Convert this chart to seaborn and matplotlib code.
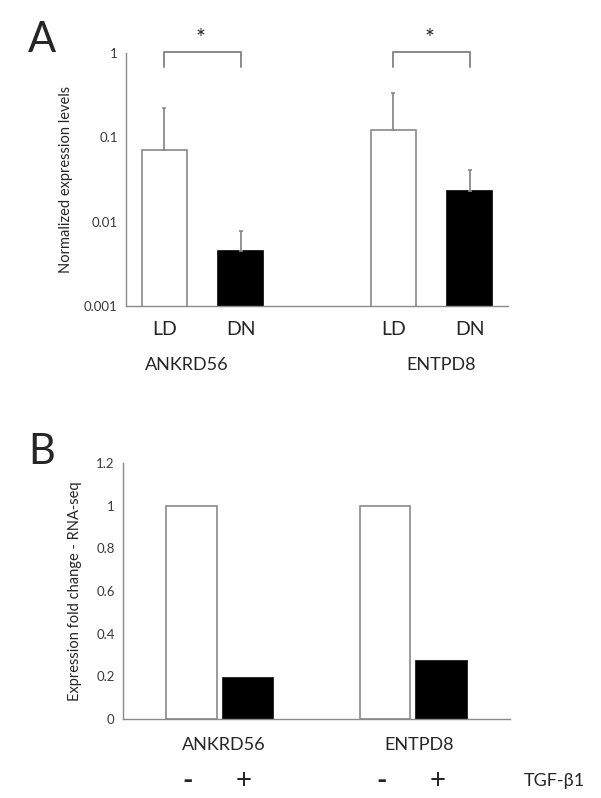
import numpy as np
import pandas as pd
import matplotlib
matplotlib.use("Agg")
import matplotlib.pyplot as plt
import seaborn as sns

# panel A data (qPCR, log scale)
a_slots = ["ANKRD56 LD", "ANKRD56 DN", "gap", "ENTPD8 LD", "ENTPD8 DN"]
a_bars = ["ANKRD56 LD", "ANKRD56 DN", "ENTPD8 LD", "ENTPD8 DN"]
a_cond = ["LD", "DN", "LD", "DN"]
a_values = [0.071, 0.0045, 0.122, 0.023]
a_err_top = [0.22, 0.0077, 0.335, 0.041]

# panel B data (RNA-seq fold change)
b_genes = ["ANKRD56", "ANKRD56", "ENTPD8", "ENTPD8"]
b_treat = ["-", "+", "-", "+"]
b_values = [1.0, 0.19, 1.0, 0.27]

sns.set_theme(style="white")
plt.rcParams["font.family"] = ["Lato", "DejaVu Sans"]

GRAY = "#8a8a8a"
W, H = 601, 798
fig = plt.figure(figsize=(W / 100, H / 100), dpi=100)
axA = fig.add_axes([126 / W, 1 - 306 / H, (508 - 126) / W, (306 - 53) / H])
axB = fig.add_axes([123 / W, 1 - 719 / H, (510 - 123) / W, (719 - 463) / H])

pal = {"LD": "white", "DN": "black", "-": "white", "+": "black"}

# ---- panel A
dfA = pd.DataFrame({"slot": a_bars, "cond": a_cond, "val": a_values})
sns.barplot(data=dfA, x="slot", y="val", hue="cond", order=a_slots, palette=pal,
            dodge=False, width=0.59, errorbar=None, legend=False, ax=axA)
axA.set_yscale("log")
for p in axA.patches:
    if p.get_width() == 0:
        continue
    fc = p.get_facecolor()
    p.set_edgecolor(GRAY if fc[0] > 0.5 else "black")
    p.set_linewidth(1.2)

xs = [a_slots.index(s) for s in a_bars]
upper = np.array(a_err_top) - np.array(a_values)
axA.errorbar(xs, a_values, yerr=[np.zeros(4), upper], fmt="none",
             ecolor=GRAY, elinewidth=1.3, capsize=1.5, capthick=1.2)

axA.set_ylim(0.001, 1)
axA.set_xlim(-0.5, 4.5)
axA.set_yticks([0.001, 0.01, 0.1, 1])
axA.set_yticklabels(["0.001", "0.01", "0.1", "1"])
axA.yaxis.set_minor_locator(matplotlib.ticker.NullLocator())
axA.set_xticks(np.arange(-0.5, 5, 1))
axA.set_xticklabels([])
axA.set_xlabel("")
axA.set_ylabel("Normalized expression levels", fontsize=10.5, labelpad=8)

# brackets with stars
for i0, i1 in [(0, 1), (3, 4)]:
    axA.plot([i0, i0, i1, i1], [0.68, 1.03, 1.03, 0.68], color=GRAY, lw=1.4,
             clip_on=False)
    axA.text((i0 + i1) / 2 - 0.03, 1.12, "*", ha="center", va="bottom",
             fontsize=17, clip_on=False)

for x, c in zip(xs, a_cond):
    axA.text(x, -0.06, c, transform=axA.get_xaxis_transform(), ha="center",
             va="top", fontsize=14)
axA.text(0.3, -0.2, "ANKRD56", transform=axA.get_xaxis_transform(),
         ha="center", va="top", fontsize=13)
axA.text(3.63, -0.2, "ENTPD8", transform=axA.get_xaxis_transform(),
         ha="center", va="top", fontsize=13)

# ---- panel B
dfB = pd.DataFrame({"gene": b_genes, "treat": b_treat, "val": b_values})
sns.barplot(data=dfB, x="gene", y="val", hue="treat", hue_order=["-", "+"],
            palette=pal, width=0.58, gap=0.1, errorbar=None, legend=False, ax=axB)
for p in axB.patches:
    if p.get_width() == 0:
        continue
    fc = p.get_facecolor()
    p.set_edgecolor(GRAY if fc[0] > 0.5 else "black")
    p.set_linewidth(1.2)
    axB.text(p.get_x() + p.get_width() / 2 - 0.02, -0.19,
             "-" if fc[0] > 0.5 else "+",
             transform=axB.get_xaxis_transform(), ha="center", va="top",
             fontsize=20, fontweight="bold" if fc[0] > 0.5 else "normal")

axB.set_ylim(0, 1.2)
axB.set_xlim(-0.5, 1.5)
axB.set_yticks([0, 0.2, 0.4, 0.6, 0.8, 1, 1.2])
axB.set_yticklabels(["0", "0.2", "0.4", "0.6", "0.8", "1", "1.2"])
axB.set_xticks([-0.5, 0.5, 1.5])
axB.set_xticklabels([])
axB.set_xlabel("")
axB.set_ylabel("Expression fold change - RNA-seq", fontsize=10.5, labelpad=10)
for x, g in [(0.02, "ANKRD56"), (1.03, "ENTPD8")]:
    axB.text(x, -0.07, g, transform=axB.get_xaxis_transform(), ha="center",
             va="top", fontsize=13)
axB.text(1.73, -0.21, "TGF-β1", transform=axB.get_xaxis_transform(),
         ha="center", va="top", fontsize=13, clip_on=False)

for ax in (axA, axB):
    sns.despine(ax=ax)
    for s in ("left", "bottom"):
        ax.spines[s].set_color(GRAY)
        ax.spines[s].set_linewidth(1.0)
    ax.tick_params(axis="both", which="major", direction="out", color=GRAY,
                   width=1.0, labelsize=9.5, labelcolor="#3a3a3a")
    ax.tick_params(axis="y", length=4, pad=2)
    ax.tick_params(axis="x", length=4)

fig.text(28 / W, 1 - 40 / H, "A", fontsize=30, ha="left", va="center")
fig.text(28 / W, 1 - 452 / H, "B", fontsize=30, ha="left", va="center")

fig.savefig("out.png", dpi=100)
